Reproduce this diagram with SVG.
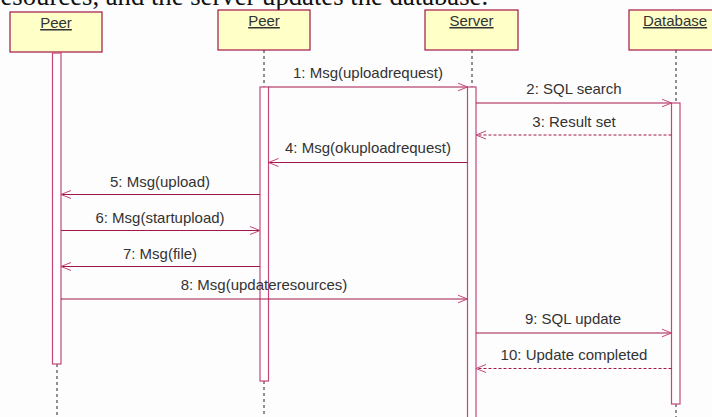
<svg xmlns="http://www.w3.org/2000/svg" width="712" height="417" viewBox="0 0 712 417">
  <style>
    .caption { font-family: "Liberation Serif", "Times New Roman", serif; font-size: 26.7px; fill: #111; }
    .head { fill: #ffffc8; stroke: #a3164a; stroke-width: 1.2; }
    .headtxt { font-family: "Liberation Sans", Arial, sans-serif; font-size: 15px; fill: #333; text-anchor: middle; text-decoration: underline; }
    .life { stroke: #222; stroke-width: 1; stroke-dasharray: 3 3; fill: none; }
    .act { fill: #fefefe; stroke: #c4477a; stroke-width: 1.2; }
    .msg { stroke: #a3164a; stroke-width: 1; fill: none; }
    .ret { stroke: #a3164a; stroke-width: 1; fill: none; stroke-dasharray: 3 2; }
    .lbl { font-family: "Liberation Sans", Arial, sans-serif; font-size: 15px; fill: #333; text-anchor: middle; }
  </style>
  <defs>
    <marker id="open" viewBox="0 0 10 10" refX="10" refY="5" markerWidth="10" markerHeight="10" markerUnits="userSpaceOnUse" orient="auto">
      <path d="M0,1 L10,5 L0,9" fill="none" stroke="#c4477a" stroke-width="1"/>
    </marker>
  </defs>

  <rect width="712" height="417" fill="#fdfdfd"/>

  <!-- tail of the preceding paragraph -->
  <text class="caption" x="0.5" y="5">esources, and the server updates the database.</text>

  <!-- lifelines (dashed segments) -->
  <g id="lifelines">
    <line class="life" x1="57" y1="364" x2="57" y2="417"/>
    <line class="life" x1="264" y1="50" x2="264" y2="87"/>
    <line class="life" x1="264" y1="381" x2="264" y2="417"/>
    <line class="life" x1="472" y1="50" x2="472" y2="87"/>
    <line class="life" x1="676" y1="50" x2="676" y2="103"/>
    <line class="life" x1="676" y1="404" x2="676" y2="417"/>
  </g>

  <g id="peer1">
    <rect class="head" x="10" y="12" width="92" height="40"/>
    <text class="headtxt" x="56" y="28">Peer</text>
    <rect class="act" x="52.5" y="53" width="8.5" height="311"/>
  </g>

  <g id="peer2">
    <rect class="head" x="218" y="10" width="92" height="40"/>
    <text class="headtxt" x="264" y="26">Peer</text>
    <rect class="act" x="260" y="87" width="8.5" height="294"/>
  </g>

  <g id="server">
    <rect class="head" x="425" y="10" width="93" height="40"/>
    <text class="headtxt" x="471.5" y="26">Server</text>
    <rect class="act" x="467.5" y="87" width="8.5" height="340"/>
  </g>

  <g id="database">
    <rect class="head" x="629" y="10" width="92" height="40"/>
    <text class="headtxt" x="675" y="26">Database</text>
    <rect class="act" x="671.5" y="103" width="8.5" height="301"/>
  </g>

  <g id="connectors">
    <line class="msg" x1="268.5" y1="87" x2="467.5" y2="87" marker-end="url(#open)"/>
    <text class="lbl" x="368" y="78">1: Msg(uploadrequest)</text>

    <line class="msg" x1="476" y1="103" x2="671.5" y2="103" marker-end="url(#open)"/>
    <text class="lbl" x="574" y="94">2: SQL search</text>

    <line class="ret" x1="671.5" y1="135" x2="476" y2="135" marker-end="url(#open)"/>
    <text class="lbl" x="574" y="127">3: Result set</text>

    <line class="msg" x1="467.5" y1="162.5" x2="268.5" y2="162.5" marker-end="url(#open)"/>
    <text class="lbl" x="368" y="153">4: Msg(okuploadrequest)</text>

    <line class="msg" x1="260" y1="194.5" x2="61" y2="194.5" marker-end="url(#open)"/>
    <text class="lbl" x="160" y="187">5: Msg(upload)</text>

    <line class="msg" x1="61" y1="230.5" x2="260" y2="230.5" marker-end="url(#open)"/>
    <text class="lbl" x="160" y="223">6: Msg(startupload)</text>

    <line class="msg" x1="260" y1="266.5" x2="61" y2="266.5" marker-end="url(#open)"/>
    <text class="lbl" x="160" y="259">7: Msg(file)</text>

    <line class="msg" x1="61" y1="299" x2="467.5" y2="299" marker-end="url(#open)"/>
    <text class="lbl" x="264" y="290">8: Msg(updateresources)</text>

    <line class="msg" x1="476" y1="333" x2="671.5" y2="333" marker-end="url(#open)"/>
    <text class="lbl" x="573" y="324">9: SQL update</text>

    <line class="ret" x1="671.5" y1="368.5" x2="476" y2="368.5" marker-end="url(#open)"/>
    <text class="lbl" x="574" y="360">10: Update completed</text>
  </g>
</svg>
